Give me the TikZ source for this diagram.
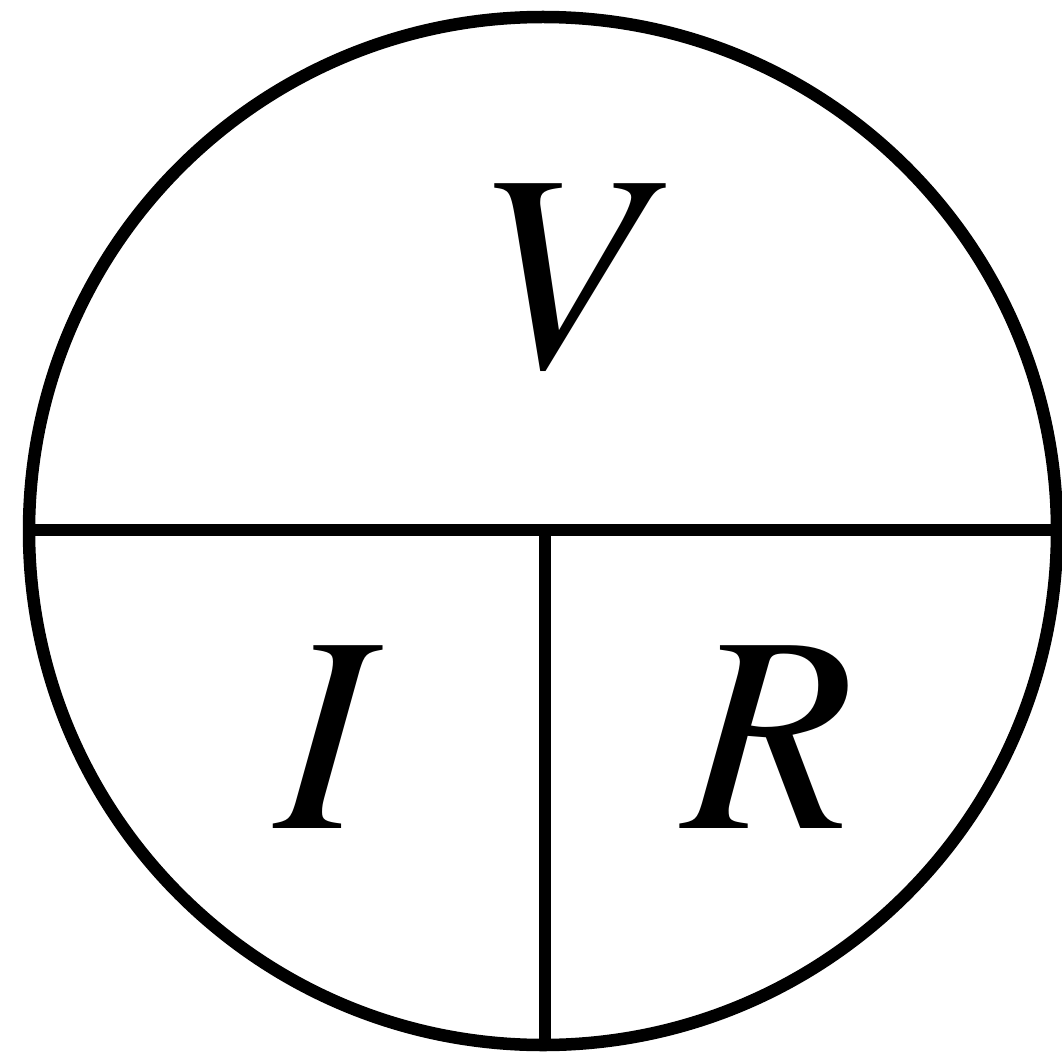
\documentclass[tikz,border=0pt]{standalone}
\usepackage{fontspec}
\newfontfamily\timesit[Extension=.otf]{texgyretermes-italic}
\begin{document}
\begin{tikzpicture}[x=1pt,y=-1pt,
  rim/.style={line width=12.5pt},
  divider/.style={line width=12pt},
  letter/.style={inner sep=0pt,anchor=base,font=\timesit\fontsize{280}{300}\selectfont}]
\useasboundingbox (0,0) rectangle (1062,1059);
\coordinate (c) at (543,531);
\draw[rim] (c) circle[radius=514pt];
\coordinate (hl) at (29,530);
\coordinate (hr) at (1057,530);
\coordinate (vt) at (545,530);
\coordinate (vb) at (545,1045);
\draw[divider] (hl) -- (hr);
\draw[divider] (vt) -- (vb);
\node[letter] (V) at (559,366) {V};
\node[letter] (I) at (322,828) {I};
\node[letter] (R) at (769,828) {R};
\end{tikzpicture}
\end{document}
